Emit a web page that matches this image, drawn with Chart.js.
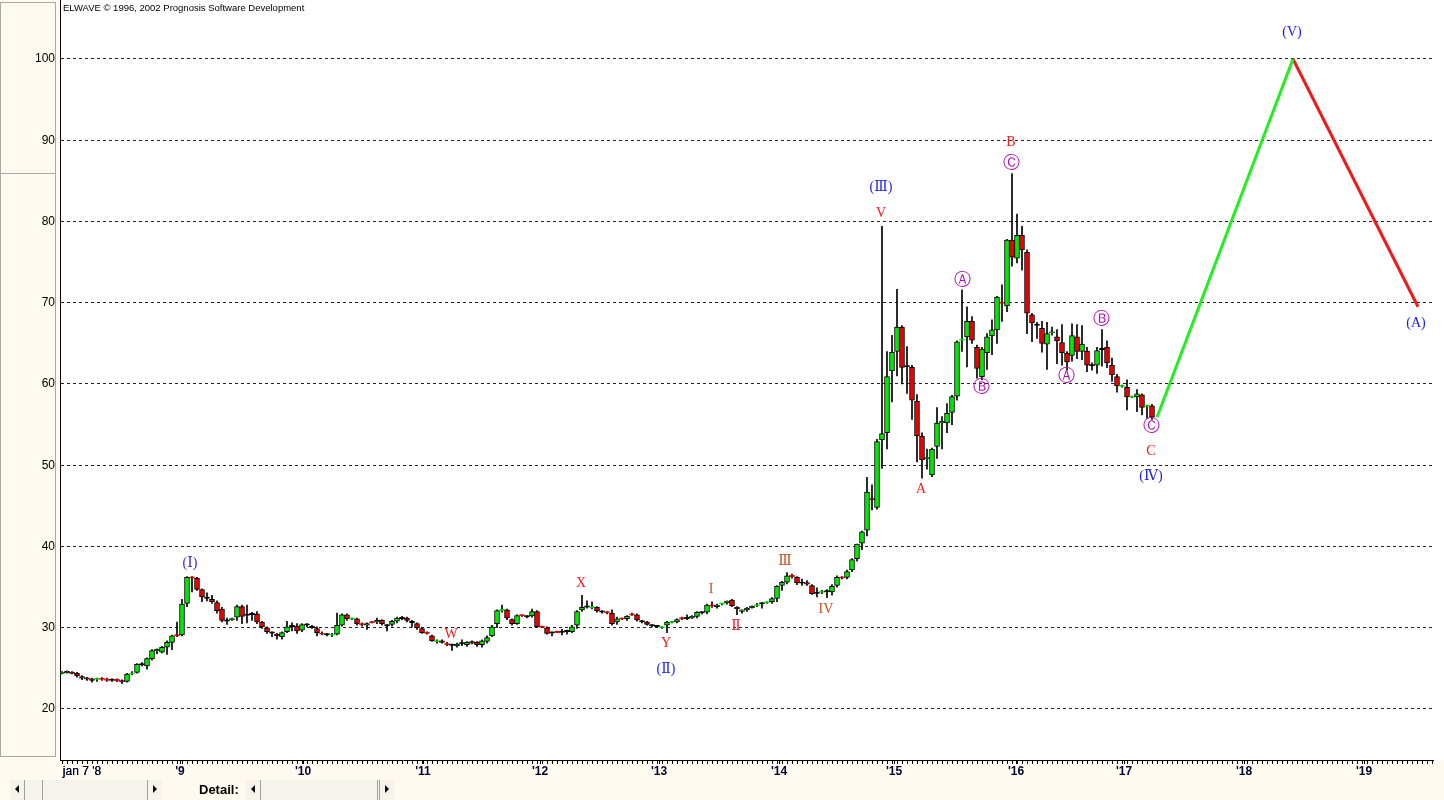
<!DOCTYPE html>
<html>
<head>
<meta charset="utf-8">
<title>ELWAVE</title>
<script src="https://cdn.jsdelivr.net/npm/chart.js@4.4.1/dist/chart.umd.min.js"></script>
<style>
  html, body { margin: 0; padding: 0; background: #fffaf0; }
  #wrap { width: 1444px; height: 800px; }
</style>
</head>
<body>
<div id="wrap"><canvas id="waveChart" width="1444" height="800"></canvas></div>
<script>
// Candles, one every two weeks from jan 7 '08 (index 0)
const open = [
  24.4, 24.5, 24.5, 24.4, 24.0, 23.8, 23.7, 23.7, 23.75, 23.65,
  23.6, 23.6, 23.5, 23.4, 24.3, 24.5, 25.5, 25.3, 26.2, 27.2,
  27.0, 27.6, 28.2, 29.1, 29.1, 33.0, 36.2, 36.1, 34.7, 33.7,
  33.5, 33.1, 32.3, 30.9, 31.0, 31.3, 32.6, 31.6, 31.7, 31.7,
  30.7, 30.0, 29.4, 29.2, 28.9, 29.5, 30.2, 30.2, 29.7, 30.4,
  30.1, 29.9, 29.3, 29.2, 29.1, 29.2, 30.3, 31.6, 31.1, 31.1,
  30.45, 30.3, 30.7, 30.7, 30.9, 30.3, 30.4, 30.8, 31.2, 31.2,
  30.7, 30.5, 29.9, 29.4, 29.0, 28.3, 28.4, 28.0, 27.9, 27.75,
  28.1, 27.9, 28.3, 28.2, 27.9, 28.3, 29.0, 30.5, 32.15, 32.2,
  31.0, 30.5, 31.55, 31.4, 31.45, 32.0, 30.15, 30.0, 29.4, 29.5,
  29.5, 29.6, 29.5, 30.3, 32.2, 32.6, 32.5, 32.5, 32.0, 31.95,
  31.8, 30.7, 31.15, 31.1, 31.65, 31.6, 30.8, 30.7, 30.3, 30.2,
  30.05, 30.3, 30.7, 30.7, 31.2, 31.2, 31.2, 31.4, 31.9, 31.9,
  32.75, 32.6, 32.95, 33.1, 33.4, 32.5, 32.0, 32.2, 32.5, 32.75,
  33.0, 33.1, 33.2, 33.6, 35.2, 35.6, 36.4, 36.2, 35.55, 35.55,
  35.2, 34.3, 34.4, 34.5, 34.4, 35.2, 36.2, 36.2, 37.1, 38.5,
  40.4, 42.0, 45.85, 44.8, 53.1, 54.0, 61.6, 64.0, 67.0, 62.2,
  62.05, 57.9, 53.6, 50.8, 48.8, 52.3, 55.2, 55.2, 56.5, 58.5,
  65.4, 65.8, 67.7, 64.5, 60.9, 63.85, 65.9, 66.65, 70.05, 69.6,
  77.7, 75.5, 78.3, 76.2, 68.5, 67.3, 66.85, 64.9, 66.3, 65.8,
  65.1, 63.8, 63.5, 65.8, 64.0, 64.06, 62.3, 62.3, 64.3, 64.5,
  62.3, 60.9, 59.75, 59.6, 58.4, 58.4, 58.65, 57.3, 57.3
];
const high = [
  24.6, 24.7, 24.6, 24.5, 24.1, 23.9, 23.8, 23.8, 23.85, 23.8,
  23.7, 23.7, 23.6, 24.4, 24.6, 25.6, 25.7, 26.3, 27.3, 27.4,
  27.7, 28.4, 29.1, 30.7, 33.5, 36.3, 36.3, 36.2, 34.8, 34.3,
  34.0, 33.3, 32.5, 31.2, 31.2, 32.8, 32.8, 32.8, 31.9, 32.0,
  30.8, 30.1, 29.5, 29.3, 29.5, 30.8, 30.6, 30.5, 30.5, 30.5,
  30.3, 30.1, 29.5, 29.3, 29.3, 31.8, 31.7, 31.7, 31.2, 31.2,
  30.6, 30.6, 30.8, 31.2, 31.0, 30.4, 30.9, 31.3, 31.4, 31.3,
  30.9, 30.6, 30.0, 29.5, 29.1, 28.5, 28.5, 28.2, 28.0, 28.1,
  28.5, 28.3, 28.4, 28.3, 28.5, 29.0, 30.3, 32.2, 32.8, 32.3,
  31.1, 31.6, 31.6, 31.5, 32.3, 32.1, 30.2, 30.1, 29.5, 29.6,
  29.8, 29.7, 30.3, 32.1, 34.0, 33.3, 33.2, 32.6, 32.1, 32.0,
  32.2, 31.3, 31.2, 31.5, 31.8, 31.7, 30.9, 30.8, 30.4, 30.3,
  30.15, 30.8, 30.8, 31.1, 31.3, 31.6, 31.5, 32.0, 32.0, 32.9,
  33.2, 32.9, 33.0, 33.3, 33.5, 32.6, 32.2, 32.5, 32.7, 33.0,
  33.1, 33.2, 33.7, 35.2, 35.7, 36.8, 36.6, 36.3, 36.0, 35.8,
  35.3, 34.9, 34.6, 34.7, 35.3, 36.4, 36.3, 37.1, 38.5, 40.3,
  41.9, 48.5, 47.6, 53.2, 79.4, 64.0, 66.0, 71.65, 67.2, 64.6,
  62.3, 58.7, 54.0, 52.0, 52.1, 57.1, 56.0, 57.6, 58.6, 65.3,
  71.6, 69.5, 68.3, 64.8, 64.5, 66.2, 67.9, 70.8, 72.2, 77.8,
  85.9, 80.9, 79.4, 76.5, 68.7, 67.6, 67.7, 67.6, 67.0, 66.7,
  67.3, 64.0, 67.4, 67.3, 67.2, 64.5, 62.6, 64.5, 66.7, 65.3,
  63.2, 61.2, 59.85, 60.5, 58.5, 59.3, 58.8, 57.4, 57.5
];
const low = [
  24.3, 24.4, 24.3, 23.9, 23.6, 23.5, 23.3, 23.4, 23.5, 23.4,
  23.4, 23.35, 23.1, 23.3, 24.2, 24.4, 25.3, 24.9, 26.0, 26.8,
  26.9, 26.7, 27.3, 28.9, 29.0, 32.6, 34.4, 34.6, 33.2, 33.3,
  33.0, 31.8, 30.7, 30.4, 30.9, 30.9, 30.5, 30.6, 30.9, 30.5,
  29.9, 29.3, 28.9, 28.6, 28.6, 29.4, 29.6, 29.3, 29.5, 30.1,
  29.9, 29.0, 29.1, 29.0, 28.9, 29.1, 30.2, 30.9, 31.0, 30.3,
  30.2, 29.8, 30.6, 30.5, 30.3, 29.6, 30.2, 30.6, 31.0, 30.7,
  30.1, 29.8, 29.3, 29.2, 28.3, 28.1, 28.1, 27.8, 27.2, 27.6,
  27.8, 27.7, 28.0, 27.7, 27.6, 28.1, 28.9, 30.0, 31.9, 31.0,
  30.3, 30.4, 31.4, 31.2, 31.3, 30.0, 30.0, 29.2, 29.0, 29.4,
  29.1, 29.2, 29.4, 29.9, 32.0, 32.4, 32.3, 31.9, 31.8, 31.7,
  30.3, 30.4, 31.0, 30.9, 31.5, 30.8, 30.6, 30.3, 30.1, 30.0,
  29.9, 29.4, 30.6, 30.6, 31.0, 31.0, 31.1, 31.2, 31.7, 31.7,
  32.5, 32.4, 32.8, 32.9, 32.6, 31.6, 31.8, 32.0, 32.4, 32.6,
  32.4, 33.0, 33.0, 33.2, 34.6, 35.4, 36.1, 35.3, 35.2, 35.2,
  34.1, 33.8, 34.2, 33.7, 34.0, 35.0, 36.0, 36.0, 36.9, 38.2,
  39.6, 41.3, 44.5, 44.6, 49.6, 52.0, 57.8, 61.0, 60.0, 58.85,
  55.65, 50.4, 48.4, 49.5, 48.6, 50.85, 52.0, 54.0, 55.0, 58.0,
  64.0, 62.1, 65.0, 60.7, 60.5, 61.8, 63.6, 65.0, 67.7, 68.9,
  74.5, 74.9, 74.0, 66.2, 65.2, 65.6, 63.9, 61.8, 66.0, 62.5,
  62.3, 61.7, 62.8, 63.1, 63.0, 61.5, 61.7, 61.3, 62.2, 62.0,
  60.3, 59.0, 59.6, 56.8, 58.3, 56.6, 56.2, 55.8, 55.65
];
const close = [
  24.5, 24.6, 24.4, 24.1, 23.8, 23.7, 23.5, 23.75, 23.7, 23.55,
  23.6, 23.55, 23.35, 24.3, 24.4, 25.5, 25.5, 26.2, 27.2, 27.3,
  27.6, 28.2, 29.0, 29.05, 32.9, 36.2, 36.15, 34.7, 33.8, 33.7,
  33.2, 32.1, 30.9, 30.9, 31.1, 32.6, 31.4, 31.6, 31.7, 30.7,
  30.1, 29.5, 29.4, 29.0, 29.4, 30.1, 30.2, 29.6, 30.4, 30.4,
  30.1, 29.4, 29.25, 29.2, 29.2, 30.3, 31.6, 31.1, 31.15, 30.5,
  30.4, 30.5, 30.65, 30.9, 30.5, 30.3, 30.8, 31.2, 31.2, 30.9,
  30.7, 30.0, 29.4, 29.35, 28.4, 28.4, 28.2, 27.95, 27.9, 28.0,
  28.1, 28.2, 28.1, 27.9, 28.4, 28.8, 30.1, 32.1, 32.2, 31.2,
  30.5, 31.5, 31.5, 31.4, 32.0, 30.1, 30.1, 29.3, 29.4, 29.45,
  29.5, 29.6, 30.1, 32.0, 32.5, 32.6, 32.55, 32.1, 32.0, 31.85,
  30.5, 31.1, 31.1, 31.4, 31.6, 30.95, 30.8, 30.4, 30.3, 30.2,
  30.1, 30.7, 30.75, 31.0, 31.15, 31.2, 31.4, 31.9, 31.9, 32.8,
  32.7, 32.8, 33.0, 33.25, 32.7, 32.35, 32.2, 32.4, 32.6, 32.8,
  33.0, 33.15, 33.6, 35.1, 35.6, 36.4, 36.35, 35.5, 35.55, 35.35,
  34.2, 34.3, 34.45, 34.5, 35.1, 36.2, 36.15, 36.9, 38.4, 40.3,
  41.8, 46.7, 45.75, 52.9, 53.9, 60.9, 63.9, 67.0, 62.05, 62.2,
  58.0, 53.6, 50.65, 50.95, 52.0, 55.2, 55.4, 56.4, 58.45, 65.2,
  65.5, 67.7, 65.4, 61.9, 64.3, 65.8, 66.65, 70.7, 69.95, 77.7,
  75.6, 78.3, 76.5, 68.7, 67.5, 67.3, 65.0, 66.2, 66.4, 65.3,
  63.85, 62.7, 65.95, 64.0, 64.9, 62.3, 62.3, 64.1, 64.3, 62.6,
  61.1, 59.75, 59.8, 58.4, 58.45, 58.8, 57.1, 57.35, 55.9
];

// Projected path: end of wave (IV) -> (V) -> (A)
const projX = [219, 246.2, 271.2];
const projY = [55.9, 100, 69.5];

// Wave labels
const waveText = ['(Ⅰ)', 'W', 'X', 'Y', '(Ⅱ)', 'I', 'Ⅱ', 'Ⅲ', 'IV', '(Ⅲ)', 'V', 'A',
  'Ⓐ', 'Ⓑ', 'B', 'Ⓒ', 'Ⓐ', 'Ⓑ', 'Ⓒ', 'C', '(Ⅳ)', '(V)', '(A)'];
const waveX = [25.6, 77.8, 103.8, 120.8, 120.8, 129.8, 134.8, 144.6, 152.8, 163.8, 163.8, 171.8,
  180, 183.8, 189.8, 189.8, 200.8, 207.8, 217.8, 217.8, 217.8, 246, 270.8];
const waveY = [37.97, 29.23, 35.51, 28.1, 24.9, 34.77, 30.2, 38.2, 32.3, 84.25, 81.05, 47.08,
  72.7, 59.5, 89.8, 87.1, 60.86, 67.9, 54.7, 51.75, 48.68, 103.3, 67.5];
const waveDegree = ['primP', 'red', 'red', 'red', 'prim', 'inter', 'interP', 'inter', 'inter', 'prim', 'red', 'red',
  'minor', 'minor', 'red', 'minor', 'minor', 'minor', 'minor', 'red', 'prim', 'prim', 'prim'];

// Axes
const yTicks = [20, 30, 40, 50, 60, 70, 80, 90, 100];
const yearPos = [4, 23.6, 48.2, 72.2, 95.6, 119.4, 143.4, 166.4, 190.8, 212.4, 236.4, 260.4];
const yearLabels = ["jan 7 '8", "'9", "'10", "'11", "'12", "'13", "'14", "'15", "'16", "'17", "'18", "'19"];

const degreeColor = {
  prim: '#1a1aee', primP: '#4a22cc', red: '#ee1c1c', inter: '#c8501e', interP: '#e4203c', minor: '#b010b0'
};

const GREEN = '#00ea00', RED = '#ee0000';

const candleColor = i => close[i] > open[i] ? GREEN : (close[i] < open[i] ? RED : '#000');
const bodies = close.map((c, i) => {
  let lo = Math.min(open[i], c), hi = Math.max(open[i], c);
  if (hi - lo < 0.16) { const m = (hi + lo) / 2; lo = m - 0.08; hi = m + 0.08; }
  return { x: i, y: [lo, hi] };
});
const wicks = close.map((c, i) => ({ x: i, y: [low[i], high[i]] }));

const chromePlugin = {
  id: 'chrome',
  beforeDraw(chart) {
    const { ctx, chartArea: a, width, height } = chart;
    ctx.save();
    ctx.fillStyle = '#fffaf0';
    ctx.fillRect(0, 0, width, height);
    ctx.fillStyle = '#fff';
    ctx.fillRect(a.left, 0, width - a.left, a.bottom);
    ctx.strokeStyle = '#a9a9a9';
    ctx.lineWidth = 1;
    ctx.strokeRect(0.5, 2.5, 55, 171);
    ctx.strokeRect(0.5, 173.5, 55, 583);
    ctx.restore();
  },
  afterDraw(chart) {
    const ctx = chart.ctx;
    ctx.save();
    ctx.fillStyle = '#000';
    ctx.font = '9.5px "Liberation Sans", Arial, sans-serif';
    ctx.textBaseline = 'alphabetic';
    ctx.fillText('ELWAVE © 1996, 2002 Prognosis Software Development', 63, 11);

    // scroll bars at the bottom
    const bar = (x0, x1) => {
      ctx.fillStyle = '#f6f3ec';
      ctx.fillRect(x0, 780, x1 - x0, 20);
      ctx.strokeStyle = '#a0a0a0';
      ctx.beginPath();
      ctx.moveTo(x0 + 14.5, 780); ctx.lineTo(x0 + 14.5, 800);
      ctx.moveTo(x1 - 14.5, 780); ctx.lineTo(x1 - 14.5, 800);
      ctx.stroke();
      ctx.fillStyle = '#000';
      ctx.beginPath();
      ctx.moveTo(x0 + 5, 789); ctx.lineTo(x0 + 9, 785); ctx.lineTo(x0 + 9, 793); ctx.fill();
      ctx.beginPath();
      ctx.moveTo(x1 - 5, 789); ctx.lineTo(x1 - 9, 785); ctx.lineTo(x1 - 9, 793); ctx.fill();
    };
    bar(10, 162);
    ctx.strokeStyle = '#a0a0a0';
    ctx.beginPath(); ctx.moveTo(42.5, 780); ctx.lineTo(42.5, 800); ctx.stroke();
    bar(246, 394);
    ctx.beginPath(); ctx.moveTo(377.5, 780); ctx.lineTo(377.5, 800); ctx.stroke();
    ctx.fillStyle = '#000';
    ctx.font = 'bold 13px "Liberation Sans", Arial, sans-serif';
    ctx.fillText('Detail:', 199, 794);
    ctx.restore();
  }
};

const waveLabelPlugin = {
  id: 'waveLabels',
  afterDatasetsDraw(chart) {
    const { ctx, scales: { x, y } } = chart;
    ctx.save();
    ctx.textAlign = 'center';
    ctx.textBaseline = 'middle';
    waveText.forEach((t, i) => {
      ctx.fillStyle = degreeColor[waveDegree[i]];
      ctx.font = waveDegree[i] === 'minor'
        ? '17px "DejaVu Sans", sans-serif'
        : '14px "Liberation Serif", "DejaVu Serif", serif';
      ctx.fillText(t, x.getPixelForValue(waveX[i]), y.getPixelForValue(waveY[i]));
    });
    ctx.restore();
  }
};

const ctx = document.getElementById('waveChart').getContext('2d');

new Chart(ctx, {
  type: 'bar',
  data: {
    datasets: [
      {
        label: 'body',
        data: bodies,
        backgroundColor: c => candleColor(c.dataIndex),
        borderColor: c => Math.abs(close[c.dataIndex] - open[c.dataIndex]) < 0.1 && close[c.dataIndex] !== open[c.dataIndex]
          ? candleColor(c.dataIndex) : '#000',
        borderWidth: 1,
        borderSkipped: false,
        barThickness: 5,
        grouped: false
      },
      {
        label: 'wick',
        data: wicks,
        backgroundColor: '#000',
        borderWidth: 0,
        barThickness: 1,
        grouped: false
      },
      {
        type: 'line',
        label: 'up',
        data: [{ x: projX[0], y: projY[0] }, { x: projX[1], y: projY[1] }],
        borderColor: '#22ee22',
        borderWidth: 3,
        pointRadius: 0,
        order: -1
      },
      {
        type: 'line',
        label: 'down',
        data: [{ x: projX[1], y: projY[1] }, { x: projX[2], y: projY[2] }],
        borderColor: '#ee1a1a',
        borderWidth: 3,
        pointRadius: 0,
        order: -1
      }
    ]
  },
  options: {
    responsive: false,
    animation: false,
    devicePixelRatio: 1,
    layout: { padding: { left: 0, right: 11, top: 0, bottom: 0 } },
    plugins: {
      legend: { display: false },
      tooltip: { enabled: false }
    },
    scales: {
      x: {
        type: 'linear',
        min: -0.4,
        max: 274.2,
        offset: false,
        afterFit: s => { s.height = 40; s.paddingLeft = 0; s.paddingRight = 0; },
        afterBuildTicks: s => {
          const t = [];
          for (let i = 0; i <= 274; i++) t.push({ value: i });
          yearPos.forEach(p => t.push({ value: p }));
          t.sort((a, b) => a.value - b.value);
          s.ticks = t;
        },
        grid: { drawOnChartArea: false, drawTicks: true, tickLength: 4, tickColor: '#000', offset: false },
        border: { color: '#000', width: 1 },
        ticks: {
          autoSkip: false,
          maxRotation: 0,
          padding: 0,
          color: '#000030',
          font: c => ({
            family: '"Liberation Sans", Arial, sans-serif',
            size: 12,
            weight: c.tick && c.tick.value === yearPos[0] ? 'normal' : 'bold'
          }),
          callback: v => {
            const k = yearPos.indexOf(v);
            return k >= 0 ? yearLabels[k] : '';
          }
        }
      },
      y: {
        min: 13.72,
        max: 107.26,
        afterFit: s => { s.width = 60; s.paddingTop = 0; s.paddingBottom = 0; },
        afterBuildTicks: s => { s.ticks = yTicks.map(v => ({ value: v })); },
        grid: { color: '#222', lineWidth: 1, drawTicks: false },
        border: { color: '#000', width: 1, dash: [3, 3] },
        ticks: {
          padding: 5,
          color: '#000',
          font: { family: '"Liberation Sans", Arial, sans-serif', size: 12 }
        }
      }
    }
  },
  plugins: [chromePlugin, waveLabelPlugin]
});
</script>
</body>
</html>
